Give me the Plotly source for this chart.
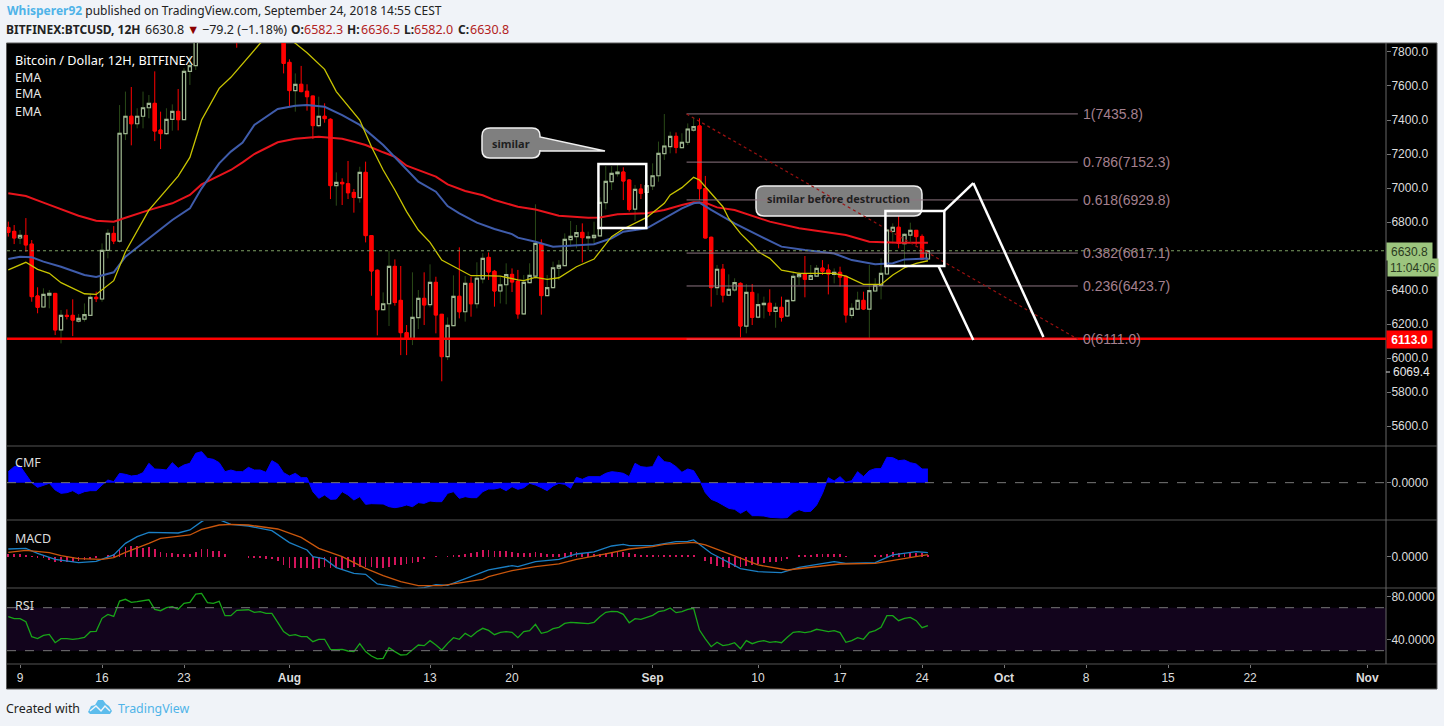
import pandas as pd
import plotly.graph_objects as go

W, H = 1444, 726
start = pd.Timestamp("2018-07-08 00:00")
N = 158
dates = [start + pd.Timedelta(hours=12 * i) for i in range(N)]

opens = [6768,6745,6706,6721,6670,6365,6300,6370,6380,6165,
6251,6251,6217,6229,6251,6357,6347,6633,6733,6688,
7320,7422,7378,7422,7472,7498,7341,7320,7404,7451,
7402,7686,7720,8150,8400,8260,8170,8050,7950,8020,
7930,8150,8200,8180,8220,8200,8170,8020,7739,7573,
7610,7569,7541,7367,7422,7404,7014,7033,7025,6974,
6943,7092,6720,6516,6284,6319,6539,6339,6149,6114,
6237,6351,6314,6445,6257,6008,6190,6363,6272,6439,
6319,6465,6592,6510,6394,6431,6492,6451,6259,6443,
6482,6674,6367,6414,6529,6543,6696,6714,6739,6706,
6708,6718,6914,7037,7084,7094,7047,6876,6994,6974,
7012,7072,7202,7243,7304,7237,7269,7341,7365,6996,
6710,6414,6522,6370,6400,6439,6188,6386,6241,6314,
6322,6274,6298,6247,6337,6478,6496,6463,6482,6529,
6518,6492,6504,6480,6251,6288,6339,6288,6394,6427,
6494,6745,6769,6672,6723,6751,6715,6582.3]
closes = [6739,6706,6721,6665,6361,6298,6374,6380,6165,6251,
6245,6223,6233,6255,6357,6349,6633,6733,6688,7322,
7422,7378,7422,7472,7498,7335,7320,7404,7451,7402,
7686,7720,8150,8400,8260,8170,8050,7950,8020,7930,
8150,8200,8180,8220,8200,8170,8020,7733,7573,7610,
7567,7537,7367,7422,7408,7014,7033,7025,6972,6945,
7092,6720,6512,6284,6319,6539,6327,6149,6114,6239,
6351,6312,6445,6253,6008,6192,6363,6272,6439,6319,
6469,6586,6506,6394,6431,6490,6447,6259,6445,6486,
6674,6367,6414,6531,6545,6698,6716,6737,6708,6712,
6722,6916,7039,7086,7094,7041,6874,6992,6969,7014,
7072,7204,7247,7304,7239,7269,7347,7361,6996,6706,
6414,6522,6370,6404,6443,6188,6386,6239,6314,6322,
6274,6298,6239,6339,6480,6492,6463,6484,6527,6510,
6494,6504,6476,6253,6292,6339,6288,6396,6429,6498,
6753,6769,6674,6727,6751,6714,6582,6630.8]
highs = [6802,6782,6753,6823,6694,6416,6410,6400,6380,6282,
6286,6345,6259,6321,6380,6390,6674,6757,6776,7488,
7567,7594,7469,7567,7547,7686,7449,7469,7492,7582,
7704,7773,8250,8480,8490,8300,8230,8120,8080,8060,
8190,8280,8240,8260,8290,8240,8200,8060,7757,7674,
7718,7610,7541,7537,7498,7410,7092,7057,7159,6994,
7125,7155,6720,6521,6386,6631,6580,6541,6194,6504,
6400,6504,6551,6478,6259,6239,6486,6651,6482,6478,
6563,6616,6621,6518,6478,6557,6527,6518,6488,6557,
6904,6698,6488,6567,6576,6733,6806,6782,6792,6743,
6802,6945,7129,7129,7145,7122,7051,7018,7023,7106,
7145,7273,7435,7331,7327,7322,7380,7416,7410,7071,
6714,6547,6553,6492,6469,6445,6435,6435,6380,6361,
6404,6325,6361,6341,6508,6508,6600,6547,6547,6576,
6551,6527,6537,6486,6322,6390,6390,6547,6469,6586,
6757,6792,6847,6733,6796,6753,6727,6636.5]
lows = [6714,6670,6670,6625,6331,6263,6296,6292,6135,6086,
6227,6129,6208,6214,6247,6329,6331,6586,6670,6678,
7282,7251,7351,7351,7410,7276,7229,7312,7337,7339,
7400,7606,7694,8130,8210,8100,7990,7900,7900,7825,
7910,8100,8130,8150,8140,8100,7950,7674,7478,7449,
7563,7455,7288,7357,7384,6935,6896,6900,6935,6855,
6914,6680,6366,6133,6278,6188,6308,6017,6017,6076,
6170,6194,6298,6145,5863,5988,6188,6233,6214,6243,
6292,6439,6459,6302,6321,6316,6388,6231,6255,6439,
6469,6255,6363,6410,6459,6539,6655,6645,6563,6635,
6665,6714,6874,6988,7067,6929,6861,6806,6935,6890,
6988,7037,7165,7204,7204,7233,7253,7331,6929,6704,
6302,6370,6327,6365,6390,6121,6145,6194,6233,6233,
6249,6178,6214,6243,6331,6429,6357,6459,6478,6488,
6374,6439,6420,6208,6233,6282,6282,6106,6390,6345,
6490,6674,6645,6527,6684,6665,6576,6582]

ema_yellow = [(0,6518),(3,6563),(5,6521),(7,6498),(9,6443),(13,6378),(15,6374),(18,6455),(20,6625),(24,6870),
(29,7070),(31,7180),(33,7400),(36,7586),(38,7651),(40,7733),(43,7851),(45,7905),(46,7915),(47,7900),(49,7851),
(51,7796),(54,7698),(56,7567),(60,7400),(62,7243),(64,7106),(66,6988),(68,6861),(70,6753),(72,6680),(74,6576),
(77,6518),(79,6484),(81,6484),(84,6482),(87,6459),(88,6455),(90,6474),(92,6463),(94,6472),(97,6537),(100,6582),
(103,6714),(105,6759),(109,6827),(112,6910),(113,6959),(115,7002),(117,7063),(118,7047),(120,6969),(122,6890),
(123,6821),(125,6733),(127,6665),(128,6625),(130,6586),(132,6517),(135,6498),(138,6498),(141,6498),(143,6482),
(146,6433),(149,6433),(151,6488),(153,6531),(155,6557),(157,6572)]
ema_blue = [(0,6582),(2,6596),(4,6592),(6,6567),(9,6537),(13,6488),(15,6476),(18,6504),(20,6596),(24,6704),
(28,6812),(31,6880),(33,6998),(36,7145),(38,7214),(40,7267),(42,7371),(46,7465),(49,7484),(51,7488),(54,7478),
(57,7429),(60,7371),(64,7253),(66,7180),(68,7106),(70,7037),(73,6978),(75,6894),(77,6851),(80,6796),(83,6759),
(86,6729),(87,6708),(90,6684),(93,6655),(97,6665),(100,6669),(103,6704),(105,6743),(109,6763),(111,6802),
(115,6880),(117,6910),(118,6914),(120,6871),(124,6792),(128,6723),(132,6655),(136,6635),(141,6615),(144,6576),
(148,6551),(151,6557),(153,6580),(157,6586)]
ema_red = [(0,6969),(3,6953),(6,6914),(9,6876),(12,6837),(15,6808),(18,6802),(20,6825),(24,6870),(28,6910),
(31,6959),(33,7021),(38,7106),(40,7151),(42,7200),(46,7269),(49,7290),(53,7302),(57,7290),(59,7272),(61,7253),
(64,7210),(66,7184),(68,7131),(73,7067),(75,7021),(78,6982),(81,6957),(83,6929),(87,6890),(90,6874),(94,6837),
(99,6825),(101,6827),(104,6845),(109,6851),(112,6871),(115,6900),(117,6916),(119,6914),(121,6886),(124,6871),
(130,6802),(135,6763),(140,6739),(143,6723),(147,6684),(152,6678),(157,6678)]

cmf = [0.033,0.048,0.050,0.023,0.000,-0.014,-0.007,-0.002,-0.022,-0.032,
-0.030,-0.024,-0.034,-0.027,-0.024,-0.024,-0.007,0.008,0.003,0.028,
0.025,0.020,0.022,0.030,0.058,0.041,0.040,0.038,0.060,0.043,
0.053,0.058,0.088,0.093,0.073,0.070,0.060,0.033,0.038,0.033,
0.033,0.046,0.038,0.038,0.031,0.066,0.056,0.030,0.020,0.028,
0.015,0.015,-0.027,-0.047,-0.037,-0.050,-0.049,-0.027,-0.037,-0.052,
-0.042,-0.065,-0.063,-0.063,-0.064,-0.072,-0.075,-0.072,-0.067,-0.072,
-0.060,-0.062,-0.055,-0.057,-0.057,-0.032,-0.027,-0.047,-0.042,-0.045,
-0.045,-0.027,-0.019,-0.019,-0.015,-0.024,-0.012,-0.020,-0.015,-0.002,
-0.007,-0.015,-0.024,-0.010,-0.002,-0.005,-0.017,0.016,0.010,0.018,
0.018,0.018,0.028,0.033,0.031,0.028,0.018,0.058,0.048,0.046,
0.048,0.081,0.063,0.060,0.048,0.031,0.041,0.036,0.008,-0.030,
-0.050,-0.057,-0.067,-0.077,-0.080,-0.092,-0.082,-0.099,-0.099,-0.100,
-0.104,-0.106,-0.106,-0.105,-0.089,-0.081,-0.087,-0.086,-0.067,-0.032,
0.015,0.005,0.018,0.001,0.006,0.033,0.018,0.036,0.042,0.042,
0.076,0.075,0.066,0.068,0.060,0.056,0.041,0.041]

macd_hist = [9,9,8,6,2,-2,-4,-9,-14,-15,
-15,-15,-12,-9,-7,-4,0,3,8,21,
30,32,33,28,31,23,16,13,11,9,
8,9,16,23,24,18,17,9,0,0,
0,-2,-4,-4,-5,-7,-12,-23,-33,-34,
-34,-34,-36,-34,-31,-34,-34,-36,-34,-31,
-29,-29,-31,-34,-33,-30,-25,-24,-21,-19,
-16,-7,0,2,0,1,3,7,8,13,
15,20,20,18,18,18,15,11,12,12,15,13,8,9,9,12,15,15,13,14,
10,9,13,15,16,15,12,8,5,6,5,5,5,7,5,5,5,5,0,-11,
-21,-27,-31,-32,-29,-30,-27,-25,-21,-19,-16,-14,-11,-7,0,3,4,5,8,8,
8,8,8,2,0,0,0,0,3,5,8,14,13,13,13,13,11,6]
macd_line = [(0,24),(3,26),(5,11),(8,-7),(12,-17),(15,-13),(18,6),(20,41),(22,61),(24,74),(29,72),(31,81),(33,106),
(34,116),(35,119),(37,106),(38,98),(41,93),(45,79),(48,43),(51,21),(52,1),(54,-6),(56,-32),(59,-49),(61,-52),(63,-81),
(66,-89),(68,-99),(71,-92),(73,-83),(75,-85),(81,-47),(82,-39),(86,-26),(87,-29),(90,-14),(94,-7),(97,9),(100,15),
(103,33),(105,38),(106,34),(110,34),(114,46),(116,47),(117,51),(120,11),(125,-35),(128,-44),(132,-47),(135,-31),
(141,-14),(143,-19),(148,-17),(151,6),(155,16),(157,13)]
macd_signal = [(0,14),(3,20),(7,13),(9,4),(12,-5),(16,-7),(18,-2),(20,14),(24,41),(26,56),(31,66),(33,83),(36,96),
(38,98),(41,96),(46,84),(50,59),(53,26),(57,1),(61,-34),(64,-56),(67,-74),(70,-86),(74,-86),(81,-67),(82,-59),(86,-41),
(90,-29),(94,-21),(97,-7),(102,9),(106,24),(110,31),(112,38),(117,44),(119,36),(124,3),(128,-24),(133,-39),(137,-31),
(142,-21),(148,-19),(152,-7),(157,7)]

rsi = [61.6,59.8,59.8,57.0,43.0,41.2,44.3,45.2,37.4,41.2,
41.2,40.6,41.2,42.4,47.7,48.0,60.1,63.8,61.9,76.2,
77.8,75.0,75.6,76.5,77.4,68.5,67.2,70.0,70.9,68.5,
74.0,75.0,82.7,83.3,74.7,74.0,75.9,62.6,62.6,67.5,
67.5,68.1,65.7,66.3,64.7,64.7,56.4,47.7,44.0,44.9,
43.0,43.0,38.4,40.6,40.6,31.2,30.9,31.2,29.7,29.1,
36.5,29.1,25.0,22.3,22.9,32.8,29.1,26.0,26.3,31.2,
35.3,34.7,39.3,35.3,30.6,36.8,42.1,40.6,46.1,43.0,
47.7,50.8,48.9,44.9,47.1,47.7,47.1,42.1,47.7,48.6,
54.5,46.1,47.4,50.5,51.7,55.4,56.4,56.0,55.4,55.1,
56.4,61.6,65.7,66.6,66.3,63.8,56.0,59.8,59.1,61.0,
62.9,66.3,67.2,69.7,65.4,66.3,68.5,69.4,49.2,40.9,
33.7,37.8,34.7,35.6,37.4,31.9,39.3,36.5,38.4,39.3,
37.8,38.4,37.4,42.4,47.1,47.7,46.8,47.7,49.9,48.9,
47.7,48.6,46.8,37.8,39.3,42.1,40.6,47.1,48.6,51.7,
62.6,62.6,57.9,60.1,61.0,57.9,51.4,53.3]

fib_ratios = ["1", "0.786", "0.618", "0.382", "0.236", "0"]
fib_levels = [7435.8, 7152.3, 6929.8, 6617.1, 6423.7, 6111.0]
price_ticks = [7800, 7600, 7400, 7200, 7000, 6800, 6400, 6200, 6000, 5800, 5600]
date_ticks = ["2018-07-09","2018-07-16","2018-07-23","2018-08-01","2018-08-13","2018-08-20","2018-09-01",
              "2018-09-10","2018-09-17","2018-09-24","2018-10-01","2018-10-08","2018-10-15","2018-10-22","2018-11-01"]
date_labels = ["9","16","23","<b>Aug</b>","13","20","<b>Sep</b>","10","17","24","<b>Oct</b>","8","15","22","<b>Nov</b>"]

for arr in (opens, closes, highs, lows, cmf, rsi, macd_hist):
    assert len(arr) == N, len(arr)

SANS = "Liberation Sans"
HEAD = "Noto Sans"
GREEN_EDGE = "#9fb592"
GREEN_WICK = "#2a4a18"

def dom(top, bottom):
    return [1 - bottom / H, 1 - top / H]

def px(x):
    return x / W

def py(y):
    return 1 - y / H

def series(pairs):
    return [dates[i] for i, _ in pairs], [v for _, v in pairs]

fig = go.Figure()
fig.add_trace(go.Candlestick(x=dates, open=opens, high=highs, low=lows, close=closes, yaxis="y", xaxis="x",
    increasing=dict(line=dict(color=GREEN_WICK, width=1), fillcolor="#000000"),
    decreasing=dict(line=dict(color="#ff0000", width=1), fillcolor="#ff0000"), hoverinfo="skip", showlegend=False))
body_hi = [max(o, c) for o, c in zip(opens, closes)]
body_lo = [min(o, c) for o, c in zip(opens, closes)]
fig.add_trace(go.Candlestick(x=dates, open=opens, high=body_hi, low=body_lo, close=closes, yaxis="y", xaxis="x",
    increasing=dict(line=dict(color=GREEN_EDGE, width=1.2), fillcolor="#000000"),
    decreasing=dict(line=dict(color="#ff0000", width=1), fillcolor="#ff0000"), hoverinfo="skip", showlegend=False))
for pairs, col, wd in ((ema_red, "#e8141c", 2), (ema_blue, "#3f5cab", 2), (ema_yellow, "#c8c400", 1.3)):
    xs, ys = series(pairs)
    fig.add_trace(go.Scatter(x=xs, y=ys, mode="lines", line=dict(color=col, width=wd), yaxis="y", xaxis="x", showlegend=False, hoverinfo="skip"))
fig.add_trace(go.Scatter(x=dates, y=cmf, mode="lines", fill="tozeroy", fillcolor="#0000ff", line=dict(color="#0000ff", width=1),
                         yaxis="y2", xaxis="x", showlegend=False, hoverinfo="skip"))
fig.add_trace(go.Bar(x=dates, y=macd_hist, width=0.8 * 86400000 / 11.714, marker=dict(color="#d3145c", line=dict(width=0)),
                     yaxis="y3", xaxis="x", showlegend=False, hoverinfo="skip"))
for pairs, col in ((macd_line, "#1b7fc4"), (macd_signal, "#c9560c")):
    xs, ys = series(pairs)
    fig.add_trace(go.Scatter(x=xs, y=ys, mode="lines", line=dict(color=col, width=1.3), yaxis="y3", xaxis="x", showlegend=False, hoverinfo="skip"))
fig.add_trace(go.Scatter(x=dates, y=rsi, mode="lines", line=dict(color="#18a518", width=1.3), yaxis="y4", xaxis="x", showlegend=False, hoverinfo="skip"))


def bubble(x0, y0, x1, y1, tail=None, r=8):
    pts = f"M {px(x0+r)} {py(y0)} L {px(x1-r)} {py(y0)} Q {px(x1)} {py(y0)} {px(x1)} {py(y0+r)} "
    if tail:
        pts += f"L {px(tail[0])} {py(tail[1])} L {px(tail[2])} {py(tail[3])} L {px(tail[4])} {py(tail[5])} "
    pts += (f"L {px(x1)} {py(y1-r)} Q {px(x1)} {py(y1)} {px(x1-r)} {py(y1)} L {px(x0+r)} {py(y1)} "
            f"Q {px(x0)} {py(y1)} {px(x0)} {py(y1-r)} L {px(x0)} {py(y0+r)} Q {px(x0)} {py(y0)} {px(x0+r)} {py(y0)} Z")
    return dict(type="path", xref="paper", yref="paper", path=pts, fillcolor="#7f7f7f", line=dict(color="#f0f0f0", width=1.5))

shapes = []
GREY = "#555555"
# chart frame and pane separators
shapes.append(dict(type="rect", xref="paper", yref="paper", x0=px(6.5), x1=px(1437), y0=py(689), y1=py(43),
                   fillcolor="#000000", line=dict(color="#5a5a5a", width=1), layer="below"))
for yy in (446, 520, 588, 664):
    shapes.append(dict(type="line", xref="paper", yref="paper", x0=px(7), x1=px(1437), y0=py(yy), y1=py(yy), line=dict(color=GREY, width=1)))
shapes.append(dict(type="line", xref="paper", yref="paper", x0=px(1386), x1=px(1386), y0=py(664), y1=py(43), line=dict(color="#666666", width=1)))
# RSI band and dashed levels
shapes.append(dict(type="rect", xref="paper", yref="y4", x0=px(7), x1=px(1386), y0=30, y1=70, fillcolor="#12041c", line=dict(width=0), layer="below"))
for lv in (30, 70):
    shapes.append(dict(type="line", xref="paper", yref="y4", x0=px(7), x1=px(1386), y0=lv, y1=lv, line=dict(color="#777777", width=1, dash="dash")))
shapes.append(dict(type="line", xref="paper", yref="y2", x0=px(7), x1=px(1386), y0=0, y1=0, line=dict(color="#777777", width=1, dash="dash")))
# support and last price
shapes.append(dict(type="line", xref="paper", yref="y", x0=px(7), x1=px(1386), y0=6113, y1=6113, line=dict(color="#ff0000", width=2.5)))
shapes.append(dict(type="line", xref="paper", yref="y", x0=px(7), x1=px(1386), y0=closes[-1], y1=closes[-1], line=dict(color="#7c9f63", width=1, dash="dot")))
shapes.append(bubble(756, 186, 922, 216))
# fib retracement
fib_x0, fib_x1 = "2018-09-03 21:36", "2018-10-07 07:12"
for lv in fib_levels:
    shapes.append(dict(type="line", xref="x", yref="y", x0=fib_x0, x1=fib_x1, y0=lv, y1=lv,
                       line=dict(color="rgba(214,150,165,0.55)" if lv == fib_levels[-1] else "#8d7480", width=1)))
shapes.append(dict(type="line", xref="x", yref="y", x0=fib_x0, x1=fib_x1, y0=fib_levels[0], y1=fib_levels[-1],
                   line=dict(color="#9c1010", width=1.2, dash="dot")))
# white boxes and projection
for a, b, lo, hi in (("2018-08-27 09:00", "2018-08-31 11:00", 6765, 7141), ("2018-09-20 21:00", "2018-09-25 21:36", 6541, 6865)):
    shapes.append(dict(type="rect", xref="x", yref="y", x0=a, x1=b, y0=lo, y1=hi, line=dict(color="#ffffff", width=2.5)))
proj = [("2018-09-25 21:36", 6865, "2018-09-28 09:00", 7029), ("2018-09-28 09:00", 7029, "2018-10-04 08:38", 6124),
        ("2018-09-25 09:36", 6541, "2018-09-28 09:00", 6106)]
for a, ya, b, yb in proj:
    shapes.append(dict(type="line", xref="x", yref="y", x0=a, x1=b, y0=ya, y1=yb, line=dict(color="#ffffff", width=2.5)))
shapes.append(bubble(482, 128, 540, 158, tail=(540, 137, 605, 151, 540, 151)))
shapes.append(dict(type="line", xref="paper", yref="paper", x0=px(1386), x1=px(1390), y0=py(372), y1=py(372), line=dict(color="#dddddd", width=1)))
# footer logo
shapes.append(dict(type="path", xref="paper", yref="paper", fillcolor="#5cbcec", line=dict(width=0),
    path=" ".join(f"{c} {px(x)} {py(y)}" for c, x, y in [("M",88,712),("L",91,706),("L",95,705),("L",98,700),("L",103,700),("L",106,704),("L",109,706),("L",112,711),("L",110,714),("L",90,714)]) + " Z"))
shapes.append(dict(type="path", xref="paper", yref="paper", line=dict(color="#f0f3f8", width=1.5),
    path=" ".join(f"{c} {px(x)} {py(y)}" for c, x, y in [("M",90,711),("L",96,706),("L",101,711),("L",105,706),("L",110,711)])))

anns = []
def ann(x, y, text, size=12, color="#dddddd", family=SANS, anchor="left", **kw):
    nudge = -2 if anchor == "left" and "bgcolor" not in kw else 0
    anns.append(dict(xref="paper", yref="paper", x=px(x + nudge), y=py(y), text=text, showarrow=False, xanchor=anchor, yanchor="middle",
                     font=dict(size=size, color=color, family=family), **kw))

ann(7, 11, '<span style="color:#4fb3e8"><b>Whisperer92</b></span> published on TradingView.com, September 24, 2018 14:55 CEST', 12, "#222222", HEAD)
R = "#b22222"
for xx, txt, col, sz in ((6, "<b>BITFINEX:BTCUSD, 12H</b>", "#222222", 12), (145, "6630.8", "#222222", 12.5), (187, "▼", "#8b0000", 12.5),
                     (202, "−79.2 (−1.18%)", "#222222", 12.5), (291, "<b>O:</b>", "#222222", 12), (304, "6582.3", R, 12.5),
                     (347, "<b>H:</b>", "#222222", 12), (361, "6636.5", R, 12.5), (404, "<b>L:</b>", "#222222", 12), (414, "6582.0", R, 12.5),
                     (458, "<b>C:</b>", "#222222", 12), (470, "6630.8", R, 12.5)):
    ann(xx, 29, txt, sz, col, HEAD)
ann(15, 60, "Bitcoin / Dollar, 12H, BITFINEX", 12.7, "#ffffff", HEAD)
for yy in (77, 94, 111):
    ann(15, yy, "EMA", 12.5, "#e8e8e8", HEAD)
ann(15, 463, "CMF", 12.5, "#dddddd", HEAD)
ann(15, 538, "MACD", 12.5, "#dddddd", HEAD)
ann(15, 605, "RSI", 12.5, "#dddddd", HEAD)
ann(511, 143, "<b>similar</b>", 11, "#1f1f1f", HEAD, anchor="center")
ann(839, 199, "<b>similar before destruction</b>", 11, "#1f1f1f", HEAD, anchor="center")
for ratio, lv in zip(fib_ratios, fib_levels):
    anns.append(dict(xref="paper", yref="y", x=px(1081), y=lv, text=f"{ratio}({lv:.1f})", showarrow=False, xanchor="left", yanchor="middle",
                     font=dict(size=14, color="#a5808f", family=SANS)))
ann(1392.7, 372, "6069.4", 12, "#e8e8e8")
ann(1386, 251, "6630.8", 12, "#2a3a20", bgcolor="#9cc57e", width=43, height=15)
ann(1387, 268, "11:04:06", 12, "#2a3a20", bgcolor="#9cc57e", width=48, height=15)
ann(1386, 339, "<b>6113.0</b>", 12, "#ffffff", bgcolor="#ff0000", width=43, height=15)
ann(6, 708, "Created with", 12.4, "#222222", HEAD)
ann(118, 708, "TradingView", 12.4, "#4fb3e8", HEAD)

yax = dict(side="right", showgrid=False, zeroline=False, anchor="x", ticks="outside", ticklen=4, tickcolor="#777777",
           tickfont=dict(size=12, color="#dddddd", family=SANS), showline=False, fixedrange=True, ticklabelstandoff=-2)
fig.update_layout(
    width=W, height=H, autosize=False, margin=dict(l=0, r=0, t=0, b=0),
    paper_bgcolor="#f0f3f8", plot_bgcolor="rgba(0,0,0,0)", showlegend=False, boxmode="overlay", boxgap=0.22, bargap=0,
    shapes=shapes, annotations=anns, hovermode=False,
    xaxis=dict(domain=[px(7), px(1386)], range=["2018-07-07 21:20", "2018-11-02 14:30"], type="date", anchor="y4",
               tickmode="array", tickvals=date_ticks, ticktext=date_labels, showgrid=False, zeroline=False, ticks="outside",
               ticklen=3, tickcolor="#777777", tickfont=dict(size=12, color="#dddddd", family=SANS),
               rangeslider=dict(visible=False), showline=False, fixedrange=True),
    yaxis=dict(domain=dom(43, 446), range=[5482.4, 7852.9], tickmode="array", tickvals=price_ticks,
               ticktext=[f"{v:.1f}" for v in price_ticks], **yax),
    yaxis2=dict(domain=dom(446, 520), range=[-0.112, 0.110], tickmode="array", tickvals=[0], ticktext=["0.0000"], **yax),
    yaxis3=dict(domain=dom(521, 588.3), range=[-94, 108], tickmode="array", tickvals=[0], ticktext=["0.0000"], **yax),
    yaxis4=dict(domain=dom(589, 664), range=[17.6, 87.4], tickmode="array", tickvals=[80, 40], ticktext=["80.0000", "40.0000"], **yax),
)

fig.write_html("out.html", config=dict(displayModeBar=False),
               post_script="document.body.style.margin='0';document.body.style.overflow='hidden';")
